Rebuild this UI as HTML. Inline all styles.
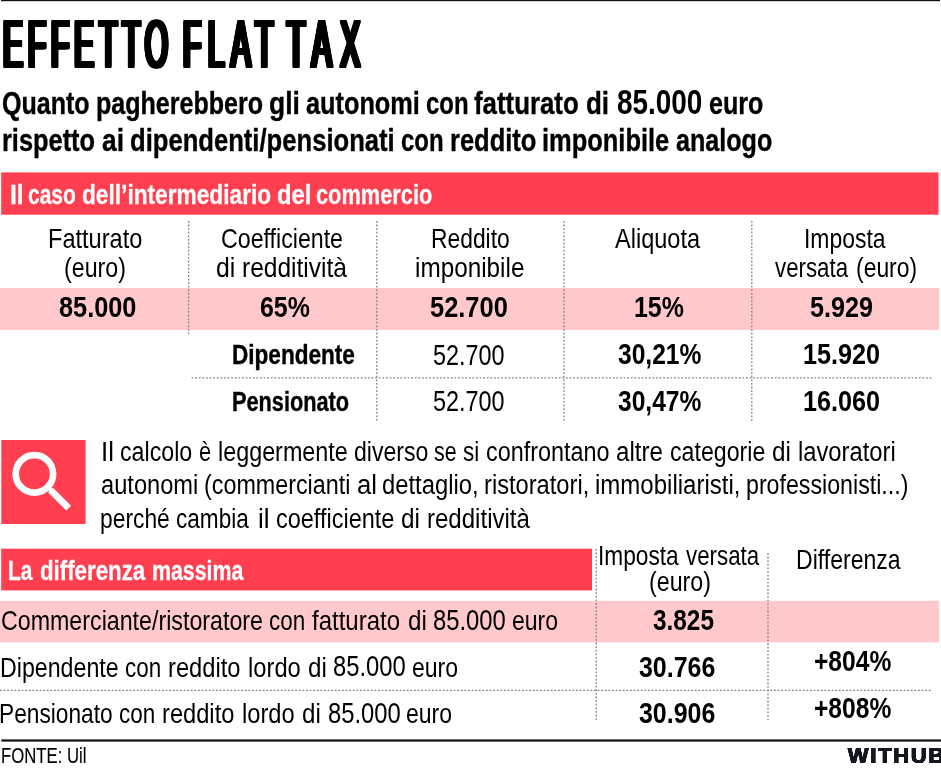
<!DOCTYPE html>
<html lang="it"><head><meta charset="utf-8"><title>Effetto flat tax</title>
<style>
html,body{margin:0;padding:0;background:#fff;}
body{width:941px;height:768px;position:relative;overflow:hidden;font-family:"Liberation Sans",sans-serif;color:#000;}
svg.o{position:absolute;left:0;top:0;}
#txt{position:absolute;left:0;top:0;width:941px;height:768px;will-change:transform;}
.t{position:absolute;white-space:nowrap;line-height:1;transform-origin:0 0;font-kerning:normal;}

</style></head><body>
<svg class="o" width="941" height="768" viewBox="0 0 941 768">
<rect x="1" y="0" width="939" height="1.2" fill="#111"/>
<rect x="1.2" y="172.4" width="937.3" height="42.3" fill="#ff3f4f"/>
<rect x="0" y="288" width="939" height="41.9" fill="#ffc9cc"/>
<rect x="1.3" y="440" width="84.3" height="84" fill="#ff3f4f"/>
<rect x="1.2" y="548.7" width="590.8" height="41.7" fill="#ff3f4f"/>
<rect x="0" y="600.8" width="939" height="41.6" fill="#ffc9cc"/>
<rect x="1.3" y="739.4" width="940" height="2.2" fill="#111"/>
<g fill="none" stroke="#fff">
<circle cx="34.4" cy="473.9" r="18.7" stroke-width="6.7"/>
<line x1="46.5" y1="486" x2="52" y2="491.5" stroke-width="4"/>
<line x1="50.6" y1="490.1" x2="68.75" y2="508.2" stroke-width="6.8"/>
</g>
<g stroke="#7a8484" stroke-width="1.3" stroke-dasharray="1.8 1.8" fill="none">
<line x1="188.6" y1="221" x2="188.6" y2="334"/>
<line x1="376.8" y1="221" x2="376.8" y2="421"/>
<line x1="564" y1="221" x2="564" y2="421"/>
<line x1="751.8" y1="221" x2="751.8" y2="421"/>
<line x1="191.6" y1="377.8" x2="932" y2="377.8"/>
<line x1="596.2" y1="549" x2="596.2" y2="720"/>
<line x1="768" y1="553" x2="768" y2="720"/>
<line x1="0" y1="690.4" x2="931" y2="690.4"/>
</g>
</svg>

<div id="txt">
<div class="t" id="t0" style="left:2.96px;top:10.73px;font-size:65.99px;transform:scaleX(0.4500);letter-spacing:11.20px;text-shadow:2.11px 0 0 currentColor,-2.11px 0 0 currentColor,4.22px 0 0 currentColor,-4.22px 0 0 currentColor,-4.22px 0.70px 0 currentColor,-4.22px -0.70px 0 currentColor,-2.11px 0.70px 0 currentColor,-2.11px -0.70px 0 currentColor,0.00px 0.70px 0 currentColor,0.00px -0.70px 0 currentColor,2.11px 0.70px 0 currentColor,2.11px -0.70px 0 currentColor,4.22px 0.70px 0 currentColor,4.22px -0.70px 0 currentColor;">EFFETTO</div>
<div class="t" id="t1" style="left:183.26px;top:10.73px;font-size:65.99px;transform:scaleX(0.4500);letter-spacing:14.76px;text-shadow:2.11px 0 0 currentColor,-2.11px 0 0 currentColor,4.22px 0 0 currentColor,-4.22px 0 0 currentColor,-4.22px 0.70px 0 currentColor,-4.22px -0.70px 0 currentColor,-2.11px 0.70px 0 currentColor,-2.11px -0.70px 0 currentColor,0.00px 0.70px 0 currentColor,0.00px -0.70px 0 currentColor,2.11px 0.70px 0 currentColor,2.11px -0.70px 0 currentColor,4.22px 0.70px 0 currentColor,4.22px -0.70px 0 currentColor;">FLAT</div>
<div class="t" id="t2" style="left:287.43px;top:10.73px;font-size:65.99px;transform:scaleX(0.4500);letter-spacing:19.60px;text-shadow:2.11px 0 0 currentColor,-2.11px 0 0 currentColor,4.22px 0 0 currentColor,-4.22px 0 0 currentColor,-4.22px 0.70px 0 currentColor,-4.22px -0.70px 0 currentColor,-2.11px 0.70px 0 currentColor,-2.11px -0.70px 0 currentColor,0.00px 0.70px 0 currentColor,0.00px -0.70px 0 currentColor,2.11px 0.70px 0 currentColor,2.11px -0.70px 0 currentColor,4.22px 0.70px 0 currentColor,4.22px -0.70px 0 currentColor;">TAX</div>
<div class="t" id="t3" style="left:2.15px;top:87.62px;font-size:31.91px;transform:scaleX(0.7842);font-weight:bold;-webkit-text-stroke:0.38px currentColor;">Quanto</div>
<div class="t" id="t4" style="left:95.61px;top:87.62px;font-size:31.91px;transform:scaleX(0.7848);font-weight:bold;-webkit-text-stroke:0.38px currentColor;">pagherebbero</div>
<div class="t" id="t5" style="left:268.90px;top:87.62px;font-size:31.91px;transform:scaleX(0.8295);font-weight:bold;-webkit-text-stroke:0.38px currentColor;">gli</div>
<div class="t" id="t6" style="left:306.05px;top:87.62px;font-size:31.91px;transform:scaleX(0.7929);font-weight:bold;-webkit-text-stroke:0.38px currentColor;">autonomi</div>
<div class="t" id="t7" style="left:425.55px;top:87.62px;font-size:31.91px;transform:scaleX(0.7487);font-weight:bold;-webkit-text-stroke:0.38px currentColor;">con</div>
<div class="t" id="t8" style="left:474.47px;top:87.62px;font-size:31.91px;transform:scaleX(0.8094);font-weight:bold;-webkit-text-stroke:0.38px currentColor;">fatturato</div>
<div class="t" id="t9" style="left:586.20px;top:87.62px;font-size:31.91px;transform:scaleX(0.8137);font-weight:bold;-webkit-text-stroke:0.38px currentColor;">di</div>
<div class="t" id="t10" style="left:616.86px;top:84.66px;font-size:34.30px;transform:scaleX(0.8141);font-weight:bold;">85.000</div>
<div class="t" id="t11" style="left:709.34px;top:87.62px;font-size:31.91px;transform:scaleX(0.7873);font-weight:bold;-webkit-text-stroke:0.38px currentColor;">euro</div>
<div class="t" id="t12" style="left:2.01px;top:125.20px;font-size:31.91px;transform:scaleX(0.7952);font-weight:bold;-webkit-text-stroke:0.38px currentColor;">rispetto</div>
<div class="t" id="t13" style="left:101.69px;top:125.20px;font-size:31.91px;transform:scaleX(0.8248);font-weight:bold;-webkit-text-stroke:0.38px currentColor;">ai</div>
<div class="t" id="t14" style="left:130.25px;top:125.20px;font-size:31.91px;transform:scaleX(0.8028);font-weight:bold;-webkit-text-stroke:0.38px currentColor;">dipendenti/pensionati</div>
<div class="t" id="t15" style="left:401.07px;top:125.20px;font-size:31.91px;transform:scaleX(0.7498);font-weight:bold;-webkit-text-stroke:0.38px currentColor;">con</div>
<div class="t" id="t16" style="left:449.63px;top:125.20px;font-size:31.91px;transform:scaleX(0.7994);font-weight:bold;-webkit-text-stroke:0.38px currentColor;">reddito</div>
<div class="t" id="t17" style="left:542.43px;top:125.20px;font-size:31.91px;transform:scaleX(0.7975);font-weight:bold;-webkit-text-stroke:0.38px currentColor;">imponibile</div>
<div class="t" id="t18" style="left:676.41px;top:125.20px;font-size:31.91px;transform:scaleX(0.7872);font-weight:bold;-webkit-text-stroke:0.38px currentColor;">analogo</div>
<div class="t" id="t19" style="left:9.65px;top:180.88px;font-size:27.31px;transform:scaleX(0.9036);font-weight:bold;color:#fff;-webkit-text-stroke:0.28px currentColor;">Il</div>
<div class="t" id="t20" style="left:28.15px;top:180.88px;font-size:27.31px;transform:scaleX(0.7690);font-weight:bold;color:#fff;-webkit-text-stroke:0.28px currentColor;">caso</div>
<div class="t" id="t21" style="left:81.66px;top:180.88px;font-size:27.31px;transform:scaleX(0.8312);font-weight:bold;color:#fff;-webkit-text-stroke:0.28px currentColor;">dell’intermediario</div>
<div class="t" id="t22" style="left:277.41px;top:180.88px;font-size:27.31px;transform:scaleX(0.8719);font-weight:bold;color:#fff;-webkit-text-stroke:0.28px currentColor;">del</div>
<div class="t" id="t23" style="left:315.78px;top:180.88px;font-size:27.31px;transform:scaleX(0.7982);font-weight:bold;color:#fff;-webkit-text-stroke:0.28px currentColor;">commercio</div>
<div class="t" id="t24" style="left:47.67px;top:224.63px;font-size:27.31px;transform:scaleX(0.8634);">Fatturato</div>
<div class="t" id="t25" style="left:64.46px;top:253.58px;font-size:27.31px;transform:scaleX(0.8511);">(euro)</div>
<div class="t" id="t26" style="left:221.32px;top:224.63px;font-size:27.31px;transform:scaleX(0.8493);">Coefficiente</div>
<div class="t" id="t27" style="left:216.49px;top:253.58px;font-size:27.31px;transform:scaleX(0.9084);">di</div>
<div class="t" id="t28" style="left:242.42px;top:253.58px;font-size:27.31px;transform:scaleX(0.8981);">redditività</div>
<div class="t" id="t29" style="left:430.73px;top:224.63px;font-size:27.31px;transform:scaleX(0.8368);">Reddito</div>
<div class="t" id="t30" style="left:415.27px;top:253.58px;font-size:27.31px;transform:scaleX(0.8902);">imponibile</div>
<div class="t" id="t31" style="left:615.25px;top:224.63px;font-size:27.31px;transform:scaleX(0.8620);">Aliquota</div>
<div class="t" id="t32" style="left:803.88px;top:224.63px;font-size:27.31px;transform:scaleX(0.8405);">Imposta</div>
<div class="t" id="t33" style="left:775.23px;top:253.58px;font-size:27.31px;transform:scaleX(0.8160);">versata</div>
<div class="t" id="t34" style="left:856.09px;top:253.58px;font-size:27.31px;transform:scaleX(0.8395);">(euro)</div>
<div class="t" id="t35" style="left:59.40px;top:292.24px;font-size:29.36px;transform:scaleX(0.8623);font-weight:bold;">85.000</div>
<div class="t" id="t36" style="left:259.59px;top:292.24px;font-size:29.36px;transform:scaleX(0.8486);font-weight:bold;">65%</div>
<div class="t" id="t37" style="left:429.72px;top:292.24px;font-size:29.36px;transform:scaleX(0.8665);font-weight:bold;">52.700</div>
<div class="t" id="t38" style="left:634.23px;top:292.24px;font-size:29.36px;transform:scaleX(0.8496);font-weight:bold;">15%</div>
<div class="t" id="t39" style="left:810.23px;top:292.24px;font-size:29.36px;transform:scaleX(0.8574);font-weight:bold;">5.929</div>
<div class="t" id="t40" style="left:231.69px;top:341.72px;font-size:27.04px;transform:scaleX(0.8349);font-weight:bold;-webkit-text-stroke:0.38px currentColor;">Dipendente</div>
<div class="t" id="t41" style="left:432.76px;top:340.24px;font-size:29.36px;transform:scaleX(0.7955);">52.700</div>
<div class="t" id="t42" style="left:618.24px;top:338.78px;font-size:29.36px;transform:scaleX(0.8377);font-weight:bold;">30,21%</div>
<div class="t" id="t43" style="left:803.21px;top:338.78px;font-size:29.36px;transform:scaleX(0.8587);font-weight:bold;">15.920</div>
<div class="t" id="t44" style="left:231.75px;top:389.28px;font-size:27.04px;transform:scaleX(0.8037);font-weight:bold;-webkit-text-stroke:0.38px currentColor;">Pensionato</div>
<div class="t" id="t45" style="left:432.76px;top:386.14px;font-size:29.36px;transform:scaleX(0.7955);">52.700</div>
<div class="t" id="t46" style="left:618.24px;top:386.04px;font-size:29.36px;transform:scaleX(0.8377);font-weight:bold;">30,47%</div>
<div class="t" id="t47" style="left:803.21px;top:386.04px;font-size:29.36px;transform:scaleX(0.8587);font-weight:bold;">16.060</div>
<div class="t" id="t48" style="left:101.33px;top:439.24px;font-size:26.77px;transform:scaleX(0.9611);">Il</div>
<div class="t" id="t49" style="left:120.23px;top:439.24px;font-size:26.77px;transform:scaleX(0.8668);">calcolo</div>
<div class="t" id="t50" style="left:198.80px;top:439.24px;font-size:26.77px;transform:scaleX(0.8162);">è</div>
<div class="t" id="t51" style="left:217.68px;top:439.24px;font-size:26.77px;transform:scaleX(0.8722);">leggermente</div>
<div class="t" id="t52" style="left:353.87px;top:439.24px;font-size:26.77px;transform:scaleX(0.8627);">diverso</div>
<div class="t" id="t53" style="left:434.44px;top:439.24px;font-size:26.77px;transform:scaleX(0.7987);">se</div>
<div class="t" id="t54" style="left:463.37px;top:439.24px;font-size:26.77px;transform:scaleX(0.8416);">si</div>
<div class="t" id="t55" style="left:486.21px;top:439.24px;font-size:26.77px;transform:scaleX(0.8743);">confrontano</div>
<div class="t" id="t56" style="left:616.39px;top:439.24px;font-size:26.77px;transform:scaleX(0.9006);">altre</div>
<div class="t" id="t57" style="left:670.00px;top:439.24px;font-size:26.77px;transform:scaleX(0.8651);">categorie</div>
<div class="t" id="t58" style="left:771.80px;top:439.24px;font-size:26.77px;transform:scaleX(0.9065);">di</div>
<div class="t" id="t59" style="left:797.88px;top:439.24px;font-size:26.77px;transform:scaleX(0.8874);">lavoratori</div>
<div class="t" id="t60" style="left:100.62px;top:472.45px;font-size:26.77px;transform:scaleX(0.8838);">autonomi</div>
<div class="t" id="t61" style="left:204.01px;top:472.45px;font-size:26.77px;transform:scaleX(0.8711);">(commercianti</div>
<div class="t" id="t62" style="left:356.58px;top:472.45px;font-size:26.77px;transform:scaleX(0.9600);">al</div>
<div class="t" id="t63" style="left:381.90px;top:472.45px;font-size:26.77px;transform:scaleX(0.8893);">dettaglio,</div>
<div class="t" id="t64" style="left:484.23px;top:472.45px;font-size:26.77px;transform:scaleX(0.8844);">ristoratori,</div>
<div class="t" id="t65" style="left:595.47px;top:472.45px;font-size:26.77px;transform:scaleX(0.8975);">immobiliaristi,</div>
<div class="t" id="t66" style="left:746.42px;top:472.45px;font-size:26.77px;transform:scaleX(0.8666);">professionisti...)</div>
<div class="t" id="t67" style="left:100.48px;top:505.63px;font-size:26.77px;transform:scaleX(0.8525);">perché</div>
<div class="t" id="t68" style="left:175.84px;top:505.63px;font-size:26.77px;transform:scaleX(0.8438);">cambia</div>
<div class="t" id="t69" style="left:257.54px;top:505.63px;font-size:26.77px;transform:scaleX(0.9679);">il</div>
<div class="t" id="t70" style="left:275.55px;top:505.63px;font-size:26.77px;transform:scaleX(0.8775);">coefficiente</div>
<div class="t" id="t71" style="left:400.58px;top:505.63px;font-size:26.77px;transform:scaleX(0.9085);">di</div>
<div class="t" id="t72" style="left:426.66px;top:505.63px;font-size:26.77px;transform:scaleX(0.8981);">redditività</div>
<div class="t" id="t73" style="left:8.15px;top:558.00px;font-size:26.90px;transform:scaleX(0.7756);font-weight:bold;color:#fff;-webkit-text-stroke:0.28px currentColor;">La</div>
<div class="t" id="t74" style="left:39.84px;top:558.00px;font-size:26.90px;transform:scaleX(0.8280);font-weight:bold;color:#fff;-webkit-text-stroke:0.28px currentColor;">differenza</div>
<div class="t" id="t75" style="left:152.27px;top:558.00px;font-size:26.90px;transform:scaleX(0.7942);font-weight:bold;color:#fff;-webkit-text-stroke:0.28px currentColor;">massima</div>
<div class="t" id="t76" style="left:597.89px;top:541.53px;font-size:27.31px;transform:scaleX(0.8306);">Imposta</div>
<div class="t" id="t77" style="left:686.27px;top:541.53px;font-size:27.31px;transform:scaleX(0.8173);">versata</div>
<div class="t" id="t78" style="left:649.41px;top:567.67px;font-size:27.31px;transform:scaleX(0.8518);">(euro)</div>
<div class="t" id="t79" style="left:795.91px;top:545.58px;font-size:27.31px;transform:scaleX(0.8440);">Differenza</div>
<div class="t" id="t80" style="left:0.69px;top:608.25px;font-size:27.04px;transform:scaleX(0.8591);">Commerciante/ristoratore</div>
<div class="t" id="t81" style="left:269.30px;top:608.25px;font-size:27.04px;transform:scaleX(0.8307);">con</div>
<div class="t" id="t82" style="left:312.49px;top:608.25px;font-size:27.04px;transform:scaleX(0.8883);">fatturato</div>
<div class="t" id="t83" style="left:407.92px;top:608.25px;font-size:27.04px;transform:scaleX(0.8947);">di</div>
<div class="t" id="t84" style="left:433.33px;top:606.18px;font-size:29.07px;transform:scaleX(0.8183);">85.000</div>
<div class="t" id="t85" style="left:511.95px;top:608.25px;font-size:27.04px;transform:scaleX(0.8514);">euro</div>
<div class="t" id="t86" style="left:653.14px;top:605.04px;font-size:29.36px;transform:scaleX(0.8292);font-weight:bold;">3.825</div>
<div class="t" id="t87" style="left:-0.22px;top:654.77px;font-size:27.04px;transform:scaleX(0.8581);">Dipendente</div>
<div class="t" id="t88" style="left:125.00px;top:654.77px;font-size:27.04px;transform:scaleX(0.8312);">con</div>
<div class="t" id="t89" style="left:168.01px;top:654.77px;font-size:27.04px;transform:scaleX(0.8774);">reddito</div>
<div class="t" id="t90" style="left:247.94px;top:654.77px;font-size:27.04px;transform:scaleX(0.8782);">lordo</div>
<div class="t" id="t91" style="left:307.67px;top:654.77px;font-size:27.04px;transform:scaleX(0.8954);">di</div>
<div class="t" id="t92" style="left:333.16px;top:651.59px;font-size:29.07px;transform:scaleX(0.8188);">85.000</div>
<div class="t" id="t93" style="left:411.90px;top:654.77px;font-size:27.04px;transform:scaleX(0.8521);">euro</div>
<div class="t" id="t94" style="left:639.03px;top:651.68px;font-size:29.36px;transform:scaleX(0.8492);font-weight:bold;">30.766</div>
<div class="t" id="t95" style="left:814.27px;top:646.02px;font-size:29.36px;transform:scaleX(0.8377);font-weight:bold;">+804%</div>
<div class="t" id="t96" style="left:-0.52px;top:701.05px;font-size:27.04px;transform:scaleX(0.8396);">Pensionato</div>
<div class="t" id="t97" style="left:119.25px;top:701.05px;font-size:27.04px;transform:scaleX(0.8296);">con</div>
<div class="t" id="t98" style="left:162.32px;top:701.05px;font-size:27.04px;transform:scaleX(0.8756);">reddito</div>
<div class="t" id="t99" style="left:242.25px;top:701.05px;font-size:27.04px;transform:scaleX(0.8764);">lordo</div>
<div class="t" id="t100" style="left:301.97px;top:701.05px;font-size:27.04px;transform:scaleX(0.8934);">di</div>
<div class="t" id="t101" style="left:327.52px;top:698.98px;font-size:29.07px;transform:scaleX(0.8171);">85.000</div>
<div class="t" id="t102" style="left:406.24px;top:701.05px;font-size:27.04px;transform:scaleX(0.8502);">euro</div>
<div class="t" id="t103" style="left:639.03px;top:698.14px;font-size:29.36px;transform:scaleX(0.8492);font-weight:bold;">30.906</div>
<div class="t" id="t104" style="left:814.27px;top:692.62px;font-size:29.36px;transform:scaleX(0.8377);font-weight:bold;">+808%</div>
<div class="t" id="t105" style="left:0.63px;top:743.65px;font-size:22.67px;transform:scaleX(0.7383);-webkit-text-stroke:0.15px currentColor;">FONTE: Uil</div>
<div class="t" id="t106" style="left:847.88px;top:744.86px;font-size:21.80px;transform:scaleX(1.0000);font-weight:bold;color:#14171f;letter-spacing:1.83px;text-shadow:0.40px 0 0 currentColor,-0.40px 0 0 currentColor,-0.40px 0.30px 0 currentColor,-0.40px -0.30px 0 currentColor,0.00px 0.30px 0 currentColor,0.00px -0.30px 0 currentColor,0.40px 0.30px 0 currentColor,0.40px -0.30px 0 currentColor;">WITHUB</div>
</div>
</body></html>
